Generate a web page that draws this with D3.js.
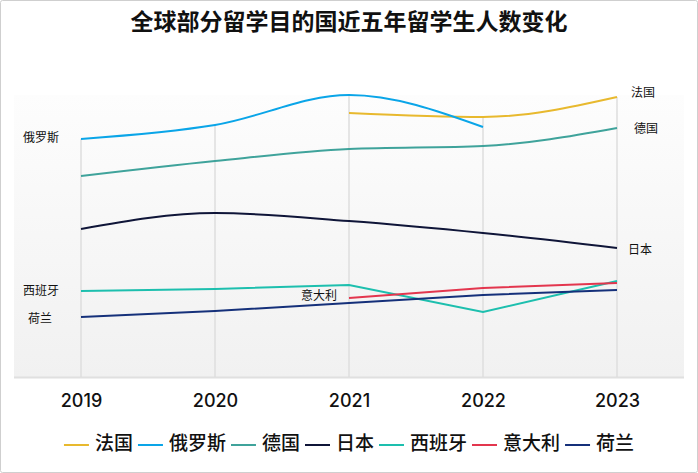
<!DOCTYPE html>
<html><head><meta charset="utf-8">
<script src="https://cdn.jsdelivr.net/npm/d3@7"></script>
<style>
html,body{margin:0;padding:0;background:#fff;}
svg{display:block;font-family:"Noto Sans CJK SC","Noto Sans",sans-serif;}
</style></head>
<body>
<svg id="chart" width="698" height="473"></svg>
<script>
const title = "全球部分留学目的国近五年留学生人数变化";
const years = ["2019","2020","2021","2022","2023"];
const seriesNames = ["法国","俄罗斯","德国","日本","西班牙","意大利","荷兰"];
const colors = ["#E8B92E","#0AA5E8","#3FA39B","#0F1538","#1DBFAE","#E3364E","#15307A"];
// 留学生人数（千人，估读）
const france  = [null, null, 264, 260, 280];
const russia  = [238, 252, 282, 250, null];
const germany = [201, 216, 228, 231, 249];
const japan   = [148, 164, 156, 144, 129];
const spain   = [86, 88, 92, 65, 96];
const italy   = [null, null, 79, 89, 94];
const netherl = [60, 66, 74, 82, 87];
const values = [france, russia, germany, japan, spain, italy, netherl];
const smooth = [true, true, true, true, false, false, false];

const svg = d3.select("#chart");
const W = 698, H = 473;

svg.append("rect").attr("x",0.5).attr("y",0.5).attr("width",W-1).attr("height",H-1)
  .attr("fill","#fff").attr("stroke","#cfcfcf").attr("rx",2);

const defs = svg.append("defs");
const grad = defs.append("linearGradient").attr("id","bg").attr("x1",0).attr("y1",0).attr("x2",0).attr("y2",1);
grad.append("stop").attr("offset","0%").attr("stop-color","#fdfdfd");
grad.append("stop").attr("offset","100%").attr("stop-color","#f1f1f1");

const plot = {left:14, right:684, top:95, bottom:377};
svg.append("rect").attr("x",plot.left).attr("y",plot.top)
  .attr("width",plot.right-plot.left).attr("height",plot.bottom-plot.top)
  .attr("fill","url(#bg)");
svg.append("line").attr("x1",plot.left).attr("x2",plot.right)
  .attr("y1",plot.bottom+0.5).attr("y2",plot.bottom+0.5)
  .attr("stroke","#e0e0e0").attr("stroke-width",2);

const x = d3.scalePoint().domain(years).range([81,617]);
const y = d3.scaleLinear().domain([0,300]).range([377,77]);

svg.append("text").attr("x",W/2).attr("y",30).attr("text-anchor","middle")
  .attr("font-size",23).attr("font-weight","bold").attr("fill","#111").text(title);

// gridlines from highest point down to baseline
years.forEach((yr,i)=>{
  const mx = d3.max(values, v=>v[i]);
  svg.append("line").attr("x1",x(yr)).attr("x2",x(yr))
    .attr("y1",y(mx)).attr("y2",plot.bottom)
    .attr("stroke","#dedede").attr("stroke-width",1.5);
});

// x axis
const axis = svg.append("g").attr("transform",`translate(0,${plot.bottom})`)
  .call(d3.axisBottom(x).tickSize(0).tickPadding(17));
axis.select(".domain").remove();
axis.selectAll("text").attr("font-size",18).attr("fill","#111").attr("font-weight",500)
  .attr("font-family","Inter,'Liberation Sans',Arial,sans-serif");

// lines
seriesNames.forEach((name,si)=>{
  const line = d3.line()
    .defined(d=>d!=null)
    .x((d,i)=>x(years[i]))
    .y(d=>y(d))
    .curve(smooth[si] ? d3.curveMonotoneX : d3.curveLinear);
  svg.append("path").datum(values[si])
    .attr("fill","none").attr("stroke",colors[si]).attr("stroke-width",2)
    .attr("d",line);
});

// series labels
const labelSpec = {
  "法国":  {side:"end", dx:14, dy:-3, anchor:"start"},
  "德国":  {side:"end", dx:17, dy:2, anchor:"start"},
  "日本":  {side:"end", dx:11, dy:3, anchor:"start"},
  "俄罗斯":{side:"start", dx:-40, dy:0, anchor:"middle"},
  "西班牙":{side:"start", dx:-40, dy:1, anchor:"middle"},
  "荷兰":  {side:"start", dx:-41, dy:3, anchor:"middle"},
  "意大利":{side:"start", dx:-12, dy:-1, anchor:"end"}
};
seriesNames.forEach((name,si)=>{
  const s = labelSpec[name];
  const v = values[si];
  let idx = -1;
  if (s.side==="start") idx = v.findIndex(d=>d!=null);
  else { for (let i=v.length-1;i>=0;i--) if (v[i]!=null){idx=i;break;} }
  svg.append("text").attr("x",x(years[idx])+s.dx).attr("y",y(v[idx])+s.dy)
    .attr("dominant-baseline","middle").attr("text-anchor",s.anchor)
    .attr("font-size",12).attr("fill","#111").text(name);
});

// legend
const leg = svg.append("g");
let cx = 0;
seriesNames.forEach((name,si)=>{
  const g = leg.append("g").attr("transform",`translate(${cx},0)`);
  g.append("line").attr("x1",0).attr("x2",25).attr("y1",0).attr("y2",0)
    .attr("stroke",colors[si]).attr("stroke-width",2);
  const t = g.append("text").attr("x",31).attr("y",0).attr("dominant-baseline","middle")
    .attr("font-size",19).attr("font-weight",500).attr("fill","#111").text(name);
  const w = t.node().getComputedTextLength();
  cx += 31 + w + 5;
});
const total = cx - 5;
leg.attr("transform",`translate(${(W-total)/2},445)`);
</script>
</body></html>
